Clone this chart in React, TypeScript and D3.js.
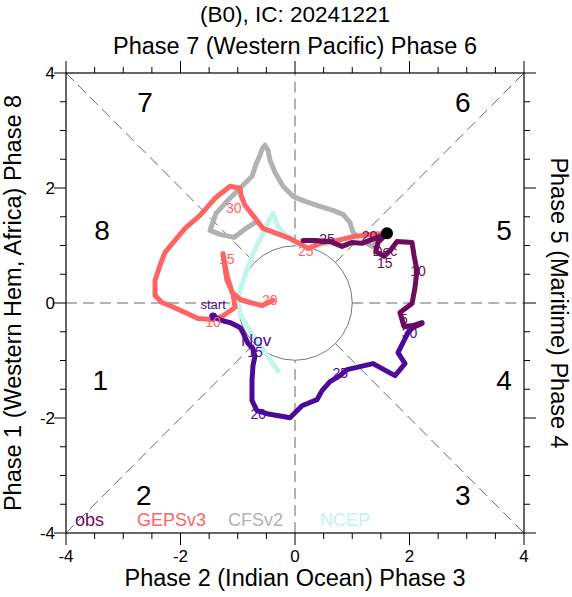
import React from 'react';
import * as d3 from 'd3';

const W = 572;
const H = 597;
const xTickVals = [-4, -2, 0, 2, 4];
const yTickVals = [-4, -2, 0, 2, 4];
const minorVals = d3.range(-4, 4.01, 0.5);

// obs (November part, indigo)
const obsNov: [number, number][] = [
  [-1.43, -0.235], [-1.275, -0.305], [-1.135, -0.34], [-0.96, -0.427], [-0.91, -0.514],
  [-0.82, -0.706], [-0.734, -0.793], [-0.7, -0.932], [-0.734, -1.089], [-0.751, -1.35],
  [-0.751, -1.699], [-0.664, -1.873], [-0.489, -1.925], [-0.087, -1.995], [0.122, -1.786],
  [0.384, -1.681], [0.472, -1.524], [0.611, -1.368], [0.786, -1.263], [0.908, -1.159],
  [1.362, -1.054], [1.747, -1.263], [1.921, -1.054], [1.799, -0.862], [1.974, -0.514],
  [2.061, -0.427], [2.218, -0.357],
];
// obs (December part, maroon)
const obsDec: [number, number][] = [
  [2.218, -0.34], [2.061, -0.392], [1.904, -0.409], [1.834, -0.166], [2.044, -0.009],
  [2.096, 0.27], [2.131, 0.566], [2.079, 0.828], [2.044, 1.054], [1.782, 1.071],
  [1.677, 0.932], [1.555, 0.81], [1.415, 0.897], [1.45, 1.054], [1.607, 1.211],
  [1.397, 1.124], [1.17, 1.037], [1.0, 1.054], [0.821, 0.984], [0.611, 1.071],
  [0.349, 1.089], [0.14, 1.089],
];
const icPoint: [number, number] = [1.607, 1.211];

const geps: [number, number][] = [
  [1.607, 1.211], [1.31, 1.193], [1.048, 1.159], [0.734, 1.089], [0.437, 1.037],
  [0.227, 0.949], [-0.087, 1.124], [-0.559, 1.298], [-0.873, 1.699], [-0.943, 1.873],
  [-0.961, 1.995], [-1.135, 2.03], [-1.397, 1.821], [-1.659, 1.524], [-1.921, 1.298],
  [-2.096, 1.089], [-2.271, 0.88], [-2.358, 0.653], [-2.445, 0.392], [-2.445, 0.131],
  [-2.323, 0.009], [-2.148, -0.061], [-1.921, -0.166], [-1.694, -0.27], [-1.45, -0.287],
  [-1.275, -0.235], [-1.048, -0.078], [-1.083, 0.166], [-1.188, 0.392], [-1.24, 0.706],
  [-1.258, 0.862], [-1.188, 0.479], [-1.1, 0.183], [-0.961, 0.061], [-0.786, 0.009],
  [-0.576, -0.044], [-0.384, 0.044],
];

const cfs: [number, number][] = [
  [1.607, 1.211], [1.345, 0.984], [1.17, 1.089], [1.013, 1.228], [0.961, 1.402],
  [0.838, 1.542], [0.664, 1.611], [0.437, 1.681], [0.175, 1.768], [-0.035, 1.855],
  [-0.21, 2.03], [-0.349, 2.274], [-0.437, 2.483], [-0.472, 2.657], [-0.524, 2.744],
  [-0.576, 2.674], [-0.611, 2.57], [-0.681, 2.413], [-0.751, 2.204], [-0.961, 1.995],
  [-1.205, 1.751], [-1.38, 1.559], [-1.485, 1.263], [-1.31, 1.193], [-1.066, 1.141],
  [-0.856, 1.298], [-0.664, 1.42],
];

const ncep: [number, number][] = [
  [1.607, 1.211], [1.345, 1.159], [0.786, 1.071], [0.349, 0.984], [0.087, 1.002],
  [-0.122, 1.124], [-0.297, 1.333], [-0.384, 1.559], [-0.472, 1.402], [-0.576, 1.176],
  [-0.751, 0.828], [-0.856, 0.531], [-0.961, 0.218], [-0.996, 0.009], [-0.943, -0.218],
  [-0.803, -0.462], [-0.611, -0.74], [-0.297, -1.176],
];

// day labels: [x, y, text]
const obsNovLabels: [number, number, string][] = [
  [-1.43, -0.03, 'start'], [-0.68, -0.65, 'Nov'], [-0.7, -0.86, '15'],
  [-0.64, -1.93, '20'], [0.79, -1.22, '25'], [2.0, -0.53, '30'],
];
const obsDecLabels: [number, number, string][] = [
  [1.9, -0.27, '5'], [2.15, 0.55, '10'], [1.57, 0.7, '15'], [1.57, 0.9, 'Dec'],
  [1.3, 1.16, '20'], [0.56, 1.12, '25'],
];
const gepsLabels: [number, number, string][] = [
  [0.19, 0.9, '25'], [-1.07, 1.65, '30'], [-1.43, -0.33, '10'], [-1.19, 0.77, '15'],
  [-0.44, 0.05, '20'],
];

const legendItems = ['obs', 'GEPSv3', 'CFSv2', 'NCEP'];
const phaseNumbers = ['1', '2', '3', '4', '5', '6', '7', '8'];

const COL_NOV = '#4b0a9a';
const COL_DEC = '#6d0b5c';
const COL_GEPS = '#ff6464';
const COL_CFS = '#b2b2b2';
const COL_NCEP = '#c2f5ec';
const legendColors = [COL_DEC, COL_GEPS, COL_CFS, COL_NCEP];

const FONT = 'Liberation Sans, Arial, Helvetica, sans-serif';

export default function App() {
  const x = d3.scaleLinear().domain([-4, 4]).range([66, 524]);
  const y = d3.scaleLinear().domain([-4, 4]).range([533, 73]);
  const line = d3
    .line<[number, number]>()
    .x((d) => x(d[0]))
    .y((d) => y(d[1]));

  const r = x(1) - x(0);
  const cx = x(0);
  const cy = y(0);

  const s = Math.SQRT1_2;
  const guideSegs: [number, number, number, number][] = [
    [-4, 0, -1, 0], [1, 0, 4, 0], [0, -4, 0, -1], [0, 1, 0, 4],
    [-4, 4, -s, s], [s, s, 4, 4], [-4, -4, -s, -s], [s, -s, 4, -4],
  ];

  const phasePos: Record<string, [number, number]> = {
    '1': [-3.4, -1.35], '2': [-2.64, -3.34], '3': [2.93, -3.34], '4': [3.65, -1.35],
    '5': [3.65, 1.26], '6': [2.93, 3.48], '7': [-2.62, 3.48], '8': [-3.37, 1.26],
  };

  const legendX = [75, 137, 228, 320];

  const renderLabels = (labels: [number, number, string][], color: string, size = 14) =>
    labels.map((l, i) => (
      <text
        key={i}
        x={x(l[0])}
        y={y(l[1])}
        fill={color}
        fontSize={size}
        textAnchor="middle"
        dominantBaseline="central"
      >
        {l[2]}
      </text>
    ));

  return (
    <svg width={W} height={H} style={{ position: 'absolute', left: 0, top: 0, background: '#fff' }} fontFamily={FONT}>
      {/* titles */}
      <text x={295} y={22} fontSize={22.5} textAnchor="middle">(B0), IC: 20241221</text>
      <text x={295} y={54} fontSize={23.5} textAnchor="middle">Phase 7 (Western Pacific) Phase 6</text>
      <text x={295} y={586} fontSize={23.5} textAnchor="middle">Phase 2 (Indian Ocean) Phase 3</text>
      <text transform={`translate(21,${cy}) rotate(-90)`} fontSize={23.5} textAnchor="middle">
        Phase 1 (Western Hem, Africa) Phase 8
      </text>
      <text transform={`translate(551,${cy}) rotate(90)`} fontSize={23.5} textAnchor="middle">
        Phase 5 (Maritime) Phase 4
      </text>

      {/* guides */}
      {guideSegs.map((g, i) => (
        <line
          key={i}
          x1={x(g[0])}
          y1={y(g[1])}
          x2={x(g[2])}
          y2={y(g[3])}
          stroke="#666"
          strokeWidth={1}
          strokeDasharray="11 6"
        />
      ))}
      <circle cx={cx} cy={cy} r={r} fill="none" stroke="#555" strokeWidth={0.8} />

      {/* phase numbers */}
      {phaseNumbers.map((p) => (
        <text
          key={p}
          x={x(phasePos[p][0])}
          y={y(phasePos[p][1])}
          fontSize={28}
          textAnchor="middle"
          dominantBaseline="central"
        >
          {p}
        </text>
      ))}

      {/* series */}
      <g fill="none" strokeLinejoin="round" strokeLinecap="round">
        <path d={line(cfs) || ''} stroke={COL_CFS} strokeWidth={5} />
        <path d={line(ncep) || ''} stroke={COL_NCEP} strokeWidth={5} />
        <path d={line(geps) || ''} stroke={COL_GEPS} strokeWidth={5} />
        <path d={line(obsNov) || ''} stroke={COL_NOV} strokeWidth={5} />
        <path d={line(obsDec) || ''} stroke={COL_DEC} strokeWidth={5} />
      </g>
      <circle cx={x(obsNov[0][0])} cy={y(obsNov[0][1])} r={4} fill={COL_NOV} />
      <circle cx={x(icPoint[0])} cy={y(icPoint[1])} r={6} fill="#000" />

      {renderLabels(gepsLabels, COL_GEPS)}
      {renderLabels(obsNovLabels.slice(0, 1), COL_NOV, 13)}
      {renderLabels(obsNovLabels.slice(1, 2), COL_NOV, 17)}
      {renderLabels(obsNovLabels.slice(2), COL_NOV)}
      {renderLabels(obsDecLabels, COL_DEC)}

      {/* legend */}
      {legendItems.map((t, i) => (
        <text key={t} x={legendX[i]} y={526} fontSize={18} fill={legendColors[i]}>
          {t}
        </text>
      ))}

      {/* frame */}
      <rect x={x(-4)} y={y(4)} width={x(4) - x(-4)} height={y(-4) - y(4)} fill="none" stroke="#000" strokeWidth={1.2} />
      {/* ticks */}
      <g stroke="#000" strokeWidth={1}>
        {minorVals.map((v) => {
          const major = xTickVals.includes(v);
          const L = major ? 12 : 6;
          return (
            <g key={v}>
              <line x1={x(v)} x2={x(v)} y1={y(-4)} y2={y(-4) + L} />
              <line x1={x(v)} x2={x(v)} y1={y(4)} y2={y(4) - L} />
              <line y1={y(v)} y2={y(v)} x1={x(-4)} x2={x(-4) - L} />
              <line y1={y(v)} y2={y(v)} x1={x(4)} x2={x(4) + L} />
            </g>
          );
        })}
      </g>
      {xTickVals.map((v) => (
        <text key={v} x={x(v)} y={562} fontSize={17} textAnchor="middle">
          {v}
        </text>
      ))}
      {yTickVals.map((v) => (
        <text key={v} x={55} y={y(v)} fontSize={17} textAnchor="end" dominantBaseline="central">
          {v}
        </text>
      ))}
    </svg>
  );
}
